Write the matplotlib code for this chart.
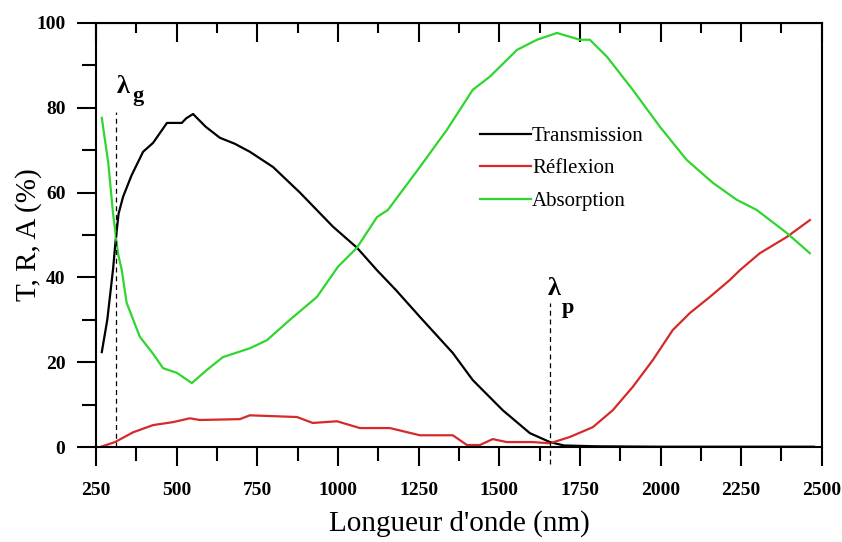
import matplotlib
matplotlib.use('Agg')
import matplotlib.pyplot as plt
from matplotlib.ticker import MultipleLocator

plt.rcParams['font.family'] = ['Liberation Serif', 'DejaVu Serif']

# Transmission (black)
t_x = [268, 285, 303, 310, 320, 334, 360, 396, 427, 470, 516, 530, 551, 590, 634,
       680, 727, 799, 882, 984, 1059, 1121, 1180, 1254, 1356, 1418, 1511, 1595,
       1657, 1700, 1800, 2000, 2250, 2475]
t_y = [22.4, 30, 42, 48, 55, 59, 64, 69.6, 71.7, 76.4, 76.4, 77.5, 78.5, 75.5, 72.9,
       71.5, 69.6, 66, 60, 52, 47, 41.7, 37, 30.7, 22.2, 15.8, 8.7, 3.3,
       1.2, 0.4, 0.2, 0.1, 0.1, 0.1]

# Reflexion (red)
r_x = [262, 309, 365, 427, 489, 541, 572, 696, 727, 873, 922, 997, 1068, 1161, 1254,
       1356, 1400, 1440, 1480, 1523, 1604, 1657, 1719, 1790, 1852, 1914, 1976, 2038,
       2091, 2153, 2215, 2246, 2308, 2391, 2463]
r_y = [0, 1.2, 3.5, 5.2, 5.9, 6.8, 6.4, 6.6, 7.5, 7.1, 5.7, 6.1, 4.5, 4.5, 2.8,
       2.8, 0.5, 0.5, 1.9, 1.2, 1.2, 0.9, 2.4, 4.7, 8.7, 14.2, 20.5, 27.6,
       31.6, 35.4, 39.4, 41.7, 45.7, 49.5, 53.5]

# Absorption (green)
a_x = [268, 288, 303, 318, 330, 345, 386, 427, 458, 501, 547, 594, 643, 727, 780,
       851, 935, 1000, 1059, 1121, 1155, 1254, 1338, 1418, 1471, 1555, 1617, 1679,
       1750, 1781, 1834, 1914, 1998, 2081, 2162, 2236, 2298, 2391, 2463]
a_y = [77.6, 67, 55, 45.7, 41.7, 34, 26, 22, 18.6, 17.5, 15.1, 18.2, 21.2, 23.3, 25.2,
       30, 35.4, 42.5, 47, 54.2, 55.9, 66, 74.8, 84.2, 87.3, 93.6, 96, 97.6,
       96, 96, 92, 84.2, 75.5, 67.7, 62.3, 58.3, 55.9, 50.5, 45.7]

lambda_g = 312
lambda_p = 1657

fig = plt.figure(figsize=(8.42, 5.42), dpi=100)
ax = fig.add_axes([0.114, 0.175, 0.862, 0.783])

ax.plot(t_x, t_y, color='black', lw=1.6, label='Transmission')
ax.plot(r_x, r_y, color='#d42a2a', lw=1.6, label='Réflexion')
ax.plot(a_x, a_y, color='#2ed62e', lw=1.6, label='Absorption')

# band gap / plasma wavelength markers
ax.plot([lambda_g, lambda_g], [0, 79], color='black', lw=0.9, ls=(0, (4, 3)))
ax.plot([lambda_p, lambda_p], [-4, 34], color='black', lw=0.9, ls=(0, (4, 3)), clip_on=False)
ax.text(315, 83.5, 'λ', fontsize=19, fontweight='bold', va='baseline')
ax.text(363, 81.5, 'g', fontsize=16, fontweight='bold', va='baseline')
ax.text(1651, 35.8, 'λ', fontsize=19, fontweight='bold', va='baseline')
ax.text(1694, 31.6, 'p', fontsize=16, fontweight='bold', va='baseline')

ax.set_xlim(250, 2500)
ax.set_ylim(0, 100)
ax.xaxis.set_major_locator(MultipleLocator(250))
ax.xaxis.set_minor_locator(MultipleLocator(125))
ax.yaxis.set_major_locator(MultipleLocator(20))
ax.yaxis.set_minor_locator(MultipleLocator(10))
ax.tick_params(which='major', direction='out', length=14, width=1.5, labelsize=14)
ax.tick_params(which='minor', direction='out', length=10, width=1.5)
ax.tick_params(axis='x', which='major', pad=11)
ax.tick_params(axis='y', which='major', pad=8)
for lab in ax.get_xticklabels() + ax.get_yticklabels():
    lab.set_fontweight('bold')
for s in ax.spines.values():
    s.set_linewidth(1.5)

top = ax.secondary_xaxis('top')
top.xaxis.set_major_locator(MultipleLocator(250))
top.xaxis.set_minor_locator(MultipleLocator(125))
top.tick_params(which='major', direction='in', length=14, width=1.5, labeltop=False)
top.tick_params(which='minor', direction='in', length=7, width=1.5)

ax.set_xlabel("Longueur d'onde (nm)", fontsize=21, labelpad=8)
ax.set_ylabel('T, R, A (%)', fontsize=21, labelpad=-4)

ax.legend(loc='upper left', bbox_to_anchor=(0.503, 0.80), frameon=False, fontsize=15,
          handlelength=2.45, handletextpad=0.05, labelspacing=0.62)

fig.savefig('out.png', dpi=100)
